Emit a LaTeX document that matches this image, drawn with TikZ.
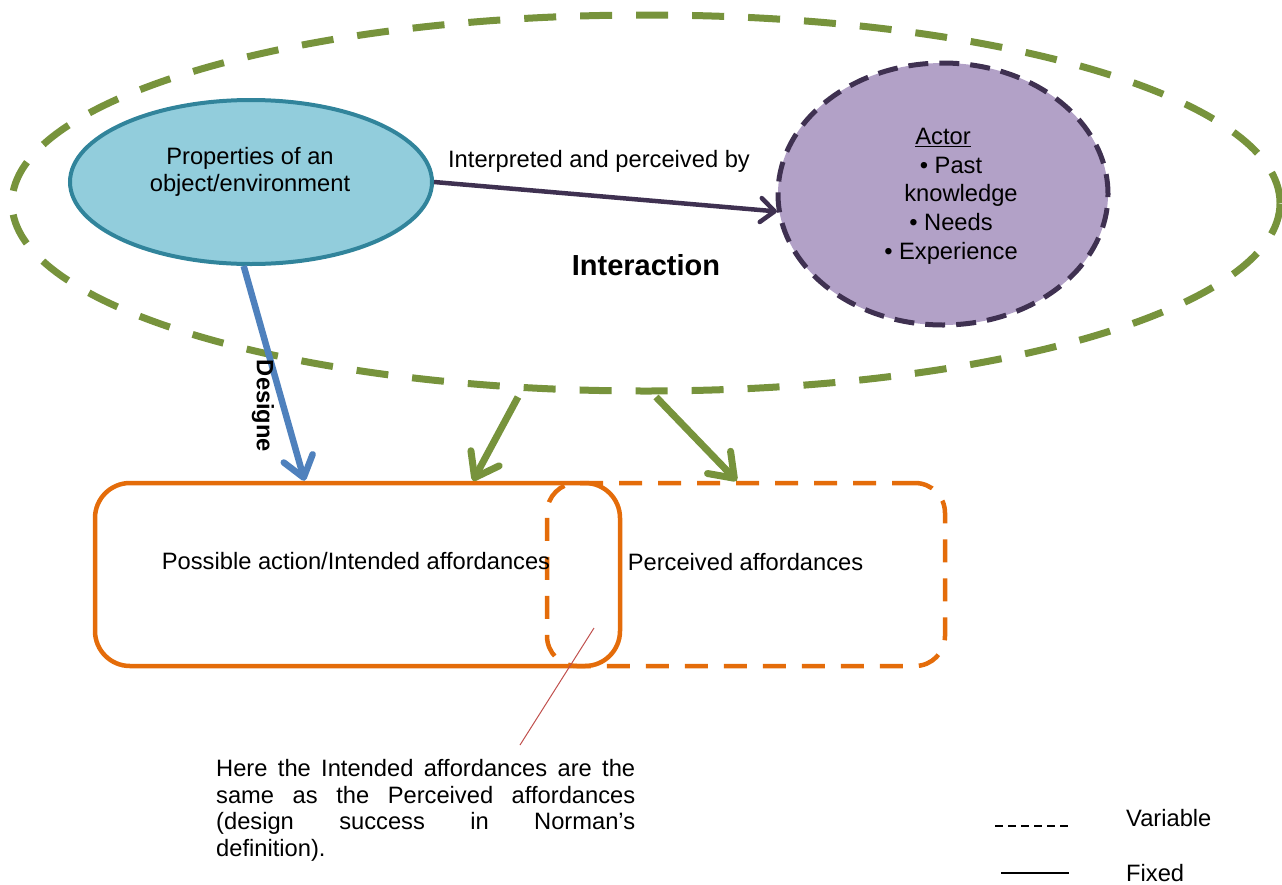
\documentclass[tikz,border=0pt]{standalone}
\usepackage{fontspec}
\setmainfont{Liberation Sans}
\usetikzlibrary{shapes.geometric,arrows.meta,calc}
\definecolor{intgreen}{HTML}{77933C}
\definecolor{propfill}{HTML}{92CDDC}
\definecolor{propline}{HTML}{31849B}
\definecolor{actorfill}{HTML}{B2A1C7}
\definecolor{actorline}{HTML}{3F3151}
\definecolor{designblue}{HTML}{4F81BD}
\definecolor{affordorange}{HTML}{E46C0A}
\definecolor{noteline}{HTML}{C0504D}
\hyphenpenalty=10000
\exhyphenpenalty=10000
\tolerance=9999
\begin{document}
\begin{tikzpicture}[x=1pt,y=-1pt,
  txt/.style={font=\fontsize{23.7}{26.7}\selectfont, inner sep=0pt},
  bigell/.style={ellipse, draw=intgreen, line width=7pt, dash pattern=on 32pt off 24pt,
    minimum width=1268pt, minimum height=376pt, inner sep=0pt},
  propsell/.style={ellipse, draw=propline, fill=propfill, line width=4pt,
    minimum width=362pt, minimum height=164pt, inner sep=0pt},
  actorell/.style={ellipse, draw=actorline, fill=actorfill, line width=5pt,
    dash pattern=on 20pt off 11pt, minimum width=330pt, minimum height=262pt, inner sep=0pt},
  affordbox/.style={rectangle, draw=affordorange, line width=4.5pt, inner sep=0pt,
    minimum height=183pt},
  greenarrow/.style={draw=intgreen, line width=7pt,
    -{Straight Barb[length=22pt,width=32pt,round]}},
  bluearrow/.style={draw=designblue, line width=6.5pt,
    -{Straight Barb[length=20pt,width=30pt,round]}},
  purplearrow/.style={draw=actorline, line width=4.5pt,
    -{Straight Barb[length=14pt,width=24pt,round]}},
  legenddash/.style={draw=black, line width=1.5pt, dash pattern=on 8pt off 5pt},
  legendsolid/.style={draw=black, line width=1.5pt},
]
\useasboundingbox (0,0) rectangle (1282,884);

% interaction area
\node[bigell] (interaction) at (646,203) {};
\node[txt, font=\fontsize{29}{32}\selectfont\bfseries] (interactionlabel) at (646,265) {Interaction};

% object / environment
\node[propsell] (props) at (251,182) {};
\node[txt, align=center] (propstext) at (250,172) {Properties of an\\object/environment};

% actor
\node[actorell] (actor) at (943,194) {};
\node[txt, align=center, font=\fontsize{23.7}{28.7}\selectfont] (actortext) at (951,196)
  {\underline{Actor}\hspace{16pt}\mbox{}\\• Past\\\mbox{}\hspace{20pt}knowledge\\• Needs\\• Experience};

% interpreted arrow
\draw[purplearrow] (props.east) -- (actor.186);
\node[txt] (interpretedlabel) at (599,161) {Interpreted and perceived by};

% affordance boxes
\node[affordbox, rounded corners=35pt, minimum width=525pt] (intended) at (357.5,574.5) {};
\node[affordbox, rounded corners=30pt, minimum width=398pt, dash pattern=on 23pt off 16pt] (perceived) at (746,574.5) {};
\node[txt] (intendedtext) at (356,561) {Possible action/Intended affordances};
\node[txt] (perceivedtext) at (745.5,562) {Perceived affordances};

% design arrow
\draw[bluearrow] (props.265) -- ($(intended.north west)!0.4!(intended.north east)$);
\node[txt, font=\fontsize{23.7}{26.7}\selectfont\bfseries, rotate=-90] (designlabel) at (263,406) {Designe};

% arrows from the interaction
\coordinate (gstartA) at (518,397);
\coordinate (gstartB) at (656,397);
\draw[greenarrow] (gstartA) -- ($(intended.north west)!0.718!(intended.north east)$);
\draw[greenarrow] (gstartB) -- ($(perceived.north west)!0.477!(perceived.north east)$);

% note
\node[txt, text width=419pt, align=justify, anchor=north west] (note) at (216,759)
  {Here the Intended affordances are the same as the Perceived affordances (design success in Norman’s\linebreak definition).};
\coordinate (overlap) at (594,628);
\coordinate (notetip) at (520,745);
\draw[noteline, line width=1pt] (overlap) -- (notetip);

% legend
\coordinate (varA) at (995,826);
\coordinate (varB) at (1070,826);
\coordinate (fixA) at (1001,873);
\coordinate (fixB) at (1069,873);
\draw[legenddash] (varA) -- (varB);
\draw[legendsolid] (fixA) -- (fixB);
\node[txt, anchor=west] (variable) at (1126,818) {Variable};
\node[txt, anchor=west] (fixed) at (1126,873) {Fixed};
\end{tikzpicture}
\end{document}
